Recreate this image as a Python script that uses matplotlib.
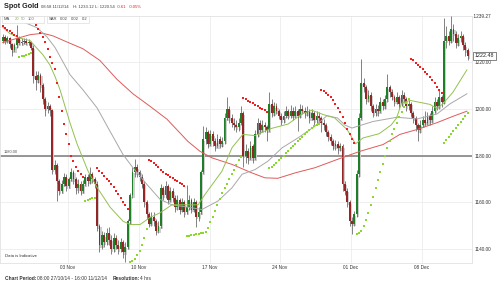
import matplotlib
matplotlib.use("Agg")
import matplotlib.pyplot as plt
from matplotlib.patches import Rectangle
import numpy as np

plt.rcParams['font.family'] = ['Liberation Sans', 'DejaVu Sans']

# 4 hour candles, 27/10/14 08:00 .. 11/12/14 16:00
closes = [
    1230.5, 1229.0, 1230.0, 1227.5, 1225.0, 1227.0, 1230.0, 1228.0, 1228.5, 1229.0,
    1228.0, 1228.5, 1226.0, 1214.0, 1212.0, 1214.5, 1210.0, 1204.0, 1200.0, 1201.0,
    1199.5, 1174.0, 1176.0, 1169.0, 1165.0, 1168.0, 1171.0, 1167.0, 1170.0, 1173.0,
    1170.0, 1166.0, 1168.0, 1165.0, 1168.0, 1171.0, 1169.0, 1172.0, 1170.0, 1168.0,
    1150.0, 1142.0, 1146.0, 1143.0, 1147.0, 1144.0, 1140.0, 1145.0, 1142.0, 1140.0,
    1143.0, 1139.0, 1141.0, 1152.0, 1163.0, 1173.0, 1175.0, 1173.0, 1171.0, 1168.0,
    1160.0, 1155.0, 1151.0, 1154.0, 1152.0, 1148.0, 1150.0, 1166.0, 1163.0, 1167.0,
    1161.0, 1165.0, 1162.0, 1158.0, 1161.0, 1157.0, 1160.0, 1156.0, 1158.0, 1161.0,
    1157.0, 1160.0, 1154.0, 1156.0, 1173.0, 1187.0, 1190.0, 1185.0, 1189.0, 1186.0,
    1184.0, 1187.0, 1185.0, 1186.0, 1196.0, 1200.0, 1196.0, 1194.0, 1193.0, 1192.0,
    1194.0, 1198.0, 1180.0, 1182.0, 1179.0, 1184.0, 1179.0, 1189.0, 1194.0, 1191.0,
    1193.0, 1192.0, 1191.0, 1202.0, 1198.0, 1201.0, 1199.0, 1197.0, 1195.0, 1197.0,
    1199.0, 1197.0, 1199.0, 1197.0, 1199.0, 1197.0, 1200.0, 1199.0, 1198.0, 1199.0,
    1196.0, 1198.0, 1195.0, 1197.0, 1196.0, 1194.0, 1193.0, 1190.0, 1188.0, 1186.0,
    1184.0, 1185.0, 1183.0, 1184.0, 1168.0, 1165.0, 1160.0, 1152.0, 1151.0, 1155.0,
    1172.0, 1196.0, 1211.0, 1209.0, 1204.0, 1206.0, 1201.0, 1198.0, 1200.0, 1199.0,
    1203.0, 1201.0, 1204.0, 1209.0, 1207.0, 1205.0, 1203.0, 1205.0, 1202.0, 1206.0,
    1204.0, 1201.0, 1202.0, 1198.0, 1196.0, 1193.0, 1191.0, 1193.0, 1195.0, 1194.0,
    1197.0, 1195.0, 1199.0, 1203.0, 1201.0, 1205.0, 1203.0, 1229.0, 1231.0, 1229.0,
    1234.0, 1232.0, 1228.0, 1230.0, 1231.0, 1227.0, 1225.0, 1222.48,
]
highs = [
    1232, 1231.5, 1231, 1230.5, 1228, 1228, 1235.5, 1231, 1230, 1230,
    1230, 1229.5, 1229, 1227, 1216, 1216, 1215, 1211, 1205, 1203,
    1202, 1200, 1178, 1177, 1170, 1169.5, 1172.5, 1172, 1171, 1174.5,
    1174, 1171, 1170, 1169, 1169.5, 1172, 1172, 1175, 1173, 1171,
    1169, 1151, 1148, 1147.5, 1149, 1149.5, 1146, 1147, 1146, 1144,
    1145, 1144, 1143, 1153, 1164, 1175, 1178.4, 1176.5, 1174, 1172,
    1169, 1161, 1156, 1156, 1156, 1153, 1152, 1168, 1167, 1169,
    1168, 1166.5, 1166, 1163, 1163, 1162, 1162, 1161, 1167.5, 1163,
    1162, 1162, 1161, 1158, 1174, 1192.5, 1192, 1191, 1191, 1190.5,
    1187.5, 1189, 1188.5, 1188, 1198, 1204.8, 1201, 1197.5, 1196, 1195,
    1196, 1201, 1199, 1185, 1183, 1186, 1185, 1191, 1196, 1195,
    1195, 1194.5, 1193, 1207.2, 1204, 1203, 1202.5, 1200, 1198, 1199,
    1201, 1200, 1201.5, 1200.5, 1201, 1200, 1202, 1201.5, 1200.5, 1201,
    1200, 1200, 1199, 1199, 1198.5, 1197, 1195.5, 1194, 1191, 1189,
    1187, 1186.5, 1186, 1185.5, 1185, 1169, 1166, 1161, 1154, 1156.5,
    1174, 1198, 1221, 1213, 1210, 1208, 1207, 1202, 1202, 1201.5,
    1205, 1204, 1206, 1214.8, 1210, 1208.5, 1206, 1207, 1206, 1208,
    1207, 1205, 1203.5, 1203, 1199, 1197, 1194, 1195, 1197, 1199,
    1198.5, 1198, 1201, 1205, 1204, 1208.3, 1206, 1238.5, 1235, 1233,
    1239.27, 1236, 1233, 1232, 1233.12, 1232, 1228.5, 1226,
]
lows = [
    1228, 1227.5, 1228, 1226, 1222.5, 1224, 1226, 1227, 1227, 1227.5,
    1227, 1227, 1225, 1211, 1208, 1211, 1207, 1202, 1197, 1198,
    1197, 1172, 1172, 1160.5, 1163, 1164, 1167, 1165, 1166, 1169,
    1168, 1163.5, 1164, 1163, 1164, 1167, 1167, 1168, 1168.5, 1166,
    1148, 1139, 1140, 1141, 1142, 1142, 1138, 1139, 1140, 1138,
    1139, 1136.5, 1134.5, 1140, 1151, 1162, 1171, 1171, 1169, 1166,
    1158, 1153, 1149.5, 1150, 1150, 1146, 1147, 1149, 1161, 1162,
    1159.5, 1160, 1160, 1156, 1157, 1155, 1156, 1154, 1155, 1157,
    1155.5, 1156, 1149.4, 1152, 1155, 1172, 1185, 1183, 1184, 1184,
    1182, 1183, 1183, 1183.5, 1185, 1195, 1194, 1192, 1191, 1190,
    1190.5, 1193, 1175, 1177, 1176.5, 1178, 1177, 1178, 1188, 1189,
    1190, 1190, 1186.3, 1190, 1196.5, 1197, 1197.5, 1195.5, 1193, 1194,
    1196, 1195.5, 1196, 1195, 1196, 1190.6, 1196, 1197.5, 1196, 1197,
    1194, 1195, 1193, 1194, 1194.5, 1190, 1191, 1188.5, 1186, 1184.5,
    1182.5, 1182.5, 1180.6, 1182, 1165, 1163, 1158, 1150, 1146.5, 1150,
    1154, 1171, 1195, 1207, 1202, 1203, 1199, 1196.5, 1197, 1197,
    1198, 1199.5, 1200, 1203, 1205, 1203.5, 1201, 1202, 1200, 1201,
    1202.5, 1199, 1199.5, 1196.5, 1194, 1190.5, 1186.3, 1189.5, 1192, 1192.5,
    1193, 1193, 1194, 1198, 1199.5, 1200, 1200.5, 1202, 1226, 1227,
    1228, 1229, 1226, 1226.5, 1228.5, 1225, 1222.5, 1220.54,
]
first_open = 1229.0
opens = [first_open] + closes[:-1]

# moving averages at these bar positions
ma20_bars = [0, 3, 7.3, 11.6, 14.5, 17, 20, 22.2, 24.3, 26.4, 28.5, 31.5, 36.1, 40, 45.5,
             51, 54, 58.2, 62.4, 66.7, 71.7, 82.8, 85.7, 92.9, 97.2, 101.8, 106.9, 113.3,
             120.9, 126.8, 131, 135.7, 140.7, 146, 149.5, 152.7, 159.5, 164.6, 166.9, 169,
             172.6, 181, 184, 186.5, 190.8, 196.7]
ma20_vals = [1234.8, 1232.0, 1230.0, 1229.0, 1225.7, 1223.0, 1218.6, 1213.6, 1208.0, 1201.0,
             1194.0, 1185.0, 1173.5, 1166.4, 1158.0, 1152.0, 1150.6, 1150.6, 1153.6, 1155.6,
             1159.0, 1159.0, 1163.4, 1173.3, 1183.4, 1189.0, 1188.5, 1191.4, 1193.4, 1197.7,
             1199.3, 1197.5, 1196.0, 1191.0, 1185.0, 1187.5, 1189.3, 1193.0, 1196.0, 1202.3,
             1203.5, 1201.8, 1200.1, 1202.0, 1207.0, 1216.5]
ma50_bars = [0, 7.3, 14.5, 18.8, 22.2, 25.5, 28.5, 34, 40, 45.5, 51, 55.2, 61.1, 66.7, 71.7,
             78.5, 84.4, 91.2, 97.2, 101.4, 106.9, 112.4, 118.4, 125.1, 132.3, 137.4, 141.9,
             145, 148, 150.5, 156.9, 167, 175.6, 184, 189.5, 196.7]
ma50_vals = [1239.2, 1237.5, 1234.5, 1230.5, 1226.0, 1220.0, 1214.5, 1208.0, 1200.3, 1190.3,
             1180.4, 1174.8, 1167.7, 1161.3, 1159.0, 1158.0, 1157.0, 1160.6, 1166.3, 1172.0,
             1174.0, 1177.6, 1183.3, 1187.5, 1192.5, 1197.0, 1196.0, 1193.0, 1191.7, 1192.5,
             1194.5, 1196.3, 1195.6, 1197.7, 1202.0, 1206.3]
ma100_bars = [0, 11.6, 17, 21.3, 27.2, 34, 41.2, 48.4, 55.2, 62.4, 69.6, 78.5, 83.6, 88.7,
              97.2, 105.6, 111.1, 116.6, 123.9, 132.3, 141.7, 151.4, 161.2, 168.3, 175.6,
              184, 190.8, 196.7]
ma100_vals = [1228.2, 1231.5, 1232.1, 1231.0, 1228.4, 1225.5, 1220.5, 1212.5, 1206.3, 1201.0,
              1195.5, 1186.0, 1181.8, 1179.0, 1176.2, 1172.6, 1170.5, 1170.3, 1172.6, 1174.8,
              1178.3, 1181.8, 1184.7, 1189.0, 1191.1, 1194.0, 1196.7, 1198.9]

# parabolic SAR: (trend, first bar, dot values)
sar_segments = [
    ("bear", 0, [1235.0, 1234.3, 1233.6, 1232.9, 1232.2, 1231.5, 1230.8]),
    ("bull", 7, [1222.0, 1222.3, 1222.6, 1222.9, 1223.2, 1223.5]),
    ("bear", 13, [1237.5, 1235.5, 1233.8, 1232.2, 1230.3, 1228.3, 1225.5, 1222.0, 1219.5,
                  1217.0, 1211.0, 1205.0, 1199.0, 1193.5, 1189.0, 1185.0, 1180.0, 1177.5,
                  1175.0, 1173.5, 1172.0, 1171.0]),
    ("bull", 35, [1160.5, 1160.9, 1161.3, 1161.7, 1162.1]),
    ("bear", 40, [1174.5, 1173.5, 1172.5, 1171.4, 1170.2, 1169.0, 1167.8, 1166.5, 1165.0,
                  1163.5, 1162.0, 1160.4, 1158.8, 1157.2]),
    ("bull", 54, [1134.5, 1135.0, 1136.0, 1137.5, 1139.5, 1142.0, 1145.0, 1148.5]),
    ("bear", 62, [1178.0, 1177.5, 1177.0, 1176.0, 1175.0, 1174.0, 1173.0, 1172.3, 1171.6,
                  1171.0, 1170.3, 1169.7, 1169.0, 1168.4, 1167.8, 1167.2]),
    ("bull", 78, [1145.6, 1145.8, 1146.0, 1146.2, 1146.4, 1146.6, 1146.8, 1147.0, 1147.4,
                  1149.0, 1151.5, 1154.0, 1156.5, 1159.0, 1161.5, 1164.0, 1166.0, 1168.0,
                  1170.0, 1172.0, 1174.0, 1176.0, 1178.0, 1179.5]),
    ("bear", 102, [1204.5, 1204.0, 1203.4, 1202.8, 1202.2, 1201.6, 1201.0, 1200.4, 1199.8,
                   1199.2, 1198.6]),
    ("bull", 113, [1174.5, 1175.3, 1176.1, 1177.0, 1178.0, 1179.0, 1180.0, 1181.0, 1182.0,
                   1183.0, 1184.0, 1185.0, 1186.0, 1187.0, 1188.0, 1189.0, 1190.0, 1190.8,
                   1191.6, 1192.4, 1193.0, 1193.5]),
    ("bear", 135, [1208.0, 1207.3, 1206.6, 1205.8, 1204.8, 1203.5, 1202.0, 1200.3, 1198.5,
                   1196.5, 1194.0, 1191.5, 1189.0, 1187.2, 1185.5]),
    ("bull", 150, [1146.5, 1147.0, 1148.0, 1150.0, 1152.5, 1155.5, 1159.0, 1162.5, 1166.0,
                   1169.5, 1173.0, 1176.5, 1180.0, 1183.0, 1186.0, 1189.0, 1191.5, 1194.0,
                   1196.5, 1198.5, 1200.5, 1202.5, 1204.3]),
    ("bear", 173, [1221.3, 1220.5, 1219.6, 1218.7, 1217.8, 1216.8, 1215.8, 1214.7, 1213.5,
                   1212.2, 1210.8, 1209.3, 1207.9, 1206.5]),
    ("bull", 187, [1185.5, 1186.5, 1187.7, 1189.0, 1190.3, 1191.6, 1193.0, 1194.3, 1195.6,
                   1197.0, 1198.3]),
]

week_ticks = [27.7, 57.7, 87.8, 117.5, 147.6, 177.7]
week_labels = ["03 Nov", "10 Nov", "17 Nov", "24 Nov", "01 Dec", "08 Dec"]
price_ticks = [1140, 1160, 1180, 1200, 1220]
top_price = 1239.27
last_price = 1222.48


def fpos(px, py):
    return px / 500.0, 1 - py / 284.0


def text_run(fig, px, py, pieces, size):
    # writes pieces one after another on one line, gap in pixels after each
    renderer = fig.canvas.get_renderer()
    for txt, col, weight, gap in pieces:
        t = fig.text(*fpos(px, py), txt, fontsize=size, color=col, fontweight=weight,
                     va='center', ha='left')
        px += t.get_window_extent(renderer).width + gap


fig = plt.figure(figsize=(5, 2.84), dpi=100)
ax = fig.add_axes([0.0, 0.0739, 0.944, 0.8697])

x = np.arange(len(closes))
o = np.array(opens)
c = np.array(closes)
h = np.array(highs)
l = np.array(lows)
up = c >= o
body_lo = np.minimum(o, c)
body_h = np.maximum(np.abs(c - o), 0.4)

# candle drop shadow, wicks, bodies
ax.bar(x + 0.5, body_h + 0.6, bottom=body_lo - 1.2, width=0.75, color='#cfcfcf', zorder=2)
ax.vlines(x, l, h, color='#505050', lw=0.5, zorder=3)
ax.bar(x, body_h, bottom=body_lo, width=0.78,
       color=np.where(up, '#1f7f26', '#962626'), zorder=4)

ax.plot(ma100_bars, ma100_vals, color='#e05a5a', lw=0.7, zorder=5)
ax.plot(ma50_bars, ma50_vals, color='#a8a8a8', lw=0.7, zorder=5)
ax.plot(ma20_bars, ma20_vals, color='#93c150', lw=0.7, zorder=5)

for trend, start, vals in sar_segments:
    col = '#f02020' if trend == "bear" else '#8ad82a'
    ax.scatter(np.arange(start, start + len(vals)), vals, marker='s', s=1.0,
               color=col, linewidths=0, zorder=6)

ax.axhline(1180, color='#7a7a7a', lw=1.1, zorder=1.5)

ax.set_xlim(-1.14, 198.86)
ax.set_ylim(1134.2, 1239.45)
ax.set_xticks(week_ticks)
ax.set_xticklabels(week_labels)
ax.set_yticks(price_ticks)
ax.set_yticklabels(["%.2f" % v for v in price_ticks])
ax.yaxis.tick_right()
ax.tick_params(axis='both', length=0, labelsize=3.4, colors='#333333')
ax.tick_params(axis='x', pad=1.2)
ax.tick_params(axis='y', pad=2.0)
ax.grid(True, color='#ececec', lw=0.6, zorder=0)
ax.set_axisbelow(True)
for s in ax.spines.values():
    s.set_color('#e2e2e2')
    s.set_linewidth(0.6)

ax.text(1.0, top_price, " %.2f" % top_price, transform=ax.get_yaxis_transform(),
        fontsize=3.4, color='#333333', va='center', ha='left')
ax.text(1.006, last_price, "%.2f" % last_price, transform=ax.get_yaxis_transform(),
        fontsize=3.9, color='#222222', va='center', ha='left', zorder=10,
        bbox=dict(boxstyle='square,pad=0.25', fc='white', ec='#555555', lw=0.5))
ax.text(0.008, 1180.6, "1180.00", transform=ax.get_yaxis_transform(),
        fontsize=2.9, color='#555555', va='bottom', ha='left')

# header
fig.text(*fpos(4, 7), "Spot Gold", fontsize=5.2, fontweight='bold', color='#222222',
         va='center', ha='left')
text_run(fig, 41, 6.5, [("08:58 11/12/14", '#444444', 'normal', 4),
                        ("H: 1233.12", '#444444', 'normal', 2),
                        ("L: 1220.54", '#444444', 'normal', 2),
                        ("-0.61", '#e02424', 'normal', 2),
                        ("-0.05%", '#e02424', 'normal', 0)], 3.1)

# indicator legend boxes
for bx, bw in [(1.5, 42.0), (46.5, 42.0)]:
    fx, fy = fpos(bx, 23.0)
    fig.patches.append(Rectangle((fx, fy), bw / 500.0, 7.0 / 284.0, transform=fig.transFigure,
                                 fc='white', ec='#dddddd', lw=0.5, zorder=8))
legend_items = [(4, "MA", '#444444'), (15, "20", '#7fb23a'), (21, "50", '#999999'),
                (27.5, "100", '#e03c3c'), (49, "SAR", '#444444'), (59.5, "0.02", '#444444'),
                (70.5, "0.02", '#444444'), (81.5, "0.2", '#444444')]
for lx, txt, col in legend_items:
    fig.text(*fpos(lx, 19.5), txt, fontsize=3.0, color=col, va='center', zorder=9)

fig.text(*fpos(5, 256), "Data is Indicative", fontsize=3.1, color='#333333', va='center')
text_run(fig, 5, 278, [("Chart Period:", '#333333', 'bold', 1),
                       ("08:00 27/10/14 - 16:00 11/12/14", '#333333', 'normal', 5),
                       ("Resolution:", '#333333', 'bold', 1),
                       ("4 hrs", '#333333', 'normal', 0)], 3.5)

fig.savefig("out.png", dpi=100)
